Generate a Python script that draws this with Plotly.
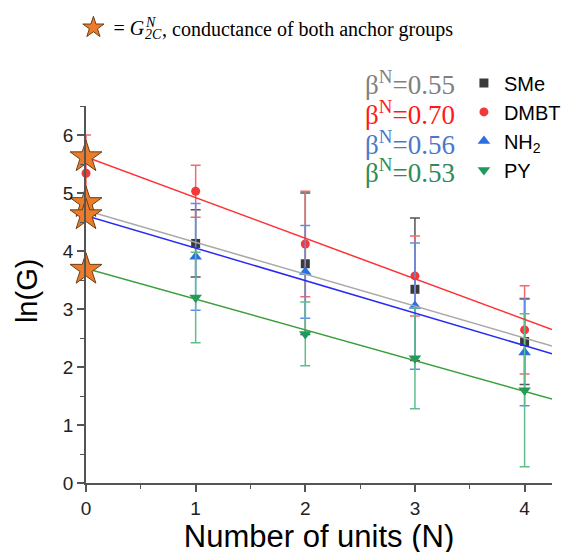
import plotly.graph_objects as go

# measured values, ln(G) vs number of units N
n_units = [0, 1, 2, 3, 4]
groups = ["SMe", "DMBT", "NH2", "PY"]
group_labels = ["SMe", "DMBT", "NH<sub>2</sub>", "PY"]

sme_n = [1, 2, 3, 4]
sme_y = [4.13, 3.78, 3.34, 2.44]
sme_err = [0.58, 1.22, 1.23, 0.74]

dmbt_n = [0, 1, 2, 3, 4]
dmbt_y = [5.34, 5.03, 4.12, 3.57, 2.64]
dmbt_err = [0.66, 0.45, 0.91, 0.69, 0.76]

nh2_n = [1, 2, 3, 4]
nh2_y = [3.90, 3.64, 3.05, 2.25]
nh2_err = [0.92, 0.80, 1.09, 0.92]

py_n = [1, 2, 3, 4]
py_y = [3.20, 2.57, 2.15, 1.60]
py_err = [0.78, 0.55, 0.87, 1.32]

# linear fits: ln(G) = intercept - beta * N
fit_intercept = [4.70, 5.62, 4.61, 3.70]
fit_beta = [0.55, 0.70, 0.56, 0.53]
fit_range = [0, 4.25]

# G_2C^N values (stars) at N = 0
star_n = [0, 0, 0, 0]
star_y = [5.62, 4.83, 4.62, 3.68]

marker_colors = ["#3a3a3a", "#f03a3a", "#2a6fe0", "#1e9a5c"]
err_colors = ["#555555", "#f26a6a", "#5c90e6", "#60be8c"]
fit_colors = ["#a8a8a8", "#ff3030", "#2a2af5", "#3a9e3a"]
beta_colors = ["#808080", "#ff1a1a", "#4a78c8", "#2e8b57"]
symbols = ["square", "circle", "triangle-up", "triangle-down"]
sizes = [9, 9, 11, 11]

series = [(sme_n, sme_y, sme_err), (dmbt_n, dmbt_y, dmbt_err),
          (nh2_n, nh2_y, nh2_err), (py_n, py_y, py_err)]

fig = go.Figure()

for i, (xs, ys, es) in enumerate(series):
    fig.add_trace(go.Scatter(
        x=xs, y=ys, mode='markers', name=group_labels[i],
        marker=dict(symbol=symbols[i], size=sizes[i], color=marker_colors[i]),
        error_y=dict(type='data', array=es, color=err_colors[i], thickness=1.5, width=5),
        cliponaxis=False, legend='legend'))

for i in range(len(groups)):
    fit_y = [fit_intercept[i] - fit_beta[i] * n for n in fit_range]
    fig.add_trace(go.Scatter(
        x=fit_range, y=fit_y, mode='lines', showlegend=False,
        line=dict(color=fit_colors[i], width=1.5), hoverinfo='skip'))

fig.add_trace(go.Scatter(
    x=star_n, y=star_y, mode='markers', name='= <i>G</i>',
    marker=dict(symbol='star', size=24, color='#ec7c2c', line=dict(color='#6b3f12', width=1)),
    cliponaxis=False, legend='legend2'))

# beta annotations
beta_y = [1.062, 0.981, 0.901, 0.828]
for i in range(len(groups)):
    fig.add_annotation(
        xref='paper', yref='paper', x=0.796, y=beta_y[i], xanchor='right', yanchor='middle',
        text='β<sup>N</sup>=%.2f' % fit_beta[i], showarrow=False,
        font=dict(family='Liberation Serif', size=27, color=beta_colors[i]))

# header text pieces
fig.add_annotation(xref='paper', yref='paper', x=0.123, y=1.221, xanchor='left', yanchor='middle',
                   text='<i>N</i>', showarrow=False,
                   font=dict(family='Liberation Serif', size=14, color='black'))
fig.add_annotation(xref='paper', yref='paper', x=0.122, y=1.189, xanchor='left', yanchor='middle',
                   text='<i>2C</i>', showarrow=False,
                   font=dict(family='Liberation Serif', size=14, color='black'))
fig.add_annotation(xref='paper', yref='paper', x=0.159, y=1.204, xanchor='left', yanchor='middle',
                   text=', conductance of both anchor groups', showarrow=False,
                   font=dict(family='Liberation Serif', size=20, color='black'))

# y axis title
fig.add_annotation(xref='paper', yref='paper', x=-0.128, y=0.51, xanchor='center', yanchor='middle',
                   text='ln(G)', textangle=-90, showarrow=False,
                   font=dict(family='Liberation Sans', size=29, color='black'))

axis_common = dict(showline=True, linecolor='#555555', linewidth=1.5, ticks='outside',
                   ticklen=7, tickwidth=1.5, tickcolor='#555555', showgrid=False, zeroline=False,
                   tickfont=dict(family='Liberation Sans', size=19, color='#222222'),
                   minor=dict(ticks='outside', ticklen=4, tickwidth=1.2, tickcolor='#555555', dtick=0.5))

fig.update_layout(
    width=581, height=552,
    margin=dict(l=78, r=37, t=98, b=77, autoexpand=False),
    plot_bgcolor='white', paper_bgcolor='white',
    xaxis=dict(range=[0, 4.25], dtick=1, tick0=0,
               title=dict(text='Number of units (N)', standoff=3,
                          font=dict(family='Liberation Sans', size=31, color='black')),
               **axis_common),
    yaxis=dict(range=[0, 6.5], dtick=1, tick0=0, **axis_common),
    legend=dict(x=0.811, y=1.113, xanchor='left', yanchor='top', bgcolor='rgba(0,0,0,0)',
                font=dict(family='Liberation Sans', size=20, color='black'),
                tracegroupgap=0, itemwidth=30),
    legend2=dict(x=-0.027, y=1.26, xanchor='left', yanchor='top', bgcolor='rgba(0,0,0,0)',
                 font=dict(family='Liberation Serif', size=20, color='black'),
                 itemwidth=30),
)

fig.write_html("out.html")
